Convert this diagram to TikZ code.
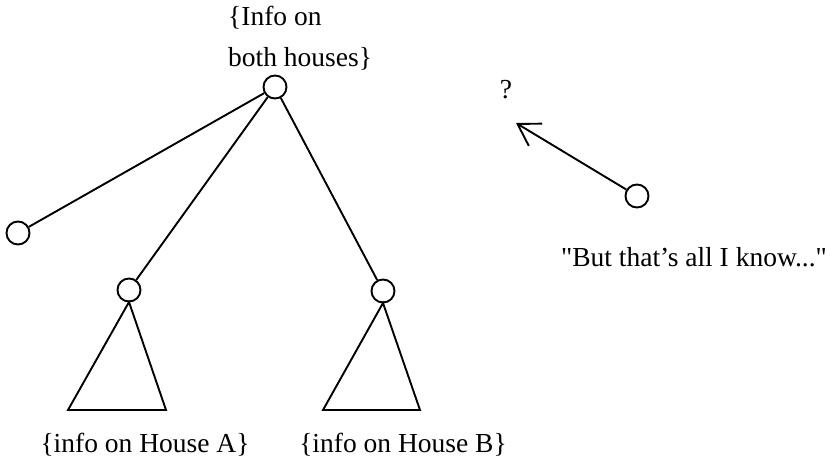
\documentclass[tikz,border=0pt]{standalone}
\usepackage{fontspec}
\setmainfont{Liberation Serif}
\newfontfamily\plainquotes{Liberation Serif}[Ligatures=TeXOff]
\usetikzlibrary{arrows.meta}
\begin{document}
\begin{tikzpicture}[x=1pt,y=-1pt,
  every node/.style={font=\fontsize{27.5}{41}\selectfont},
  vtx/.style={draw,circle,line width=1.9pt,minimum size=23pt,inner sep=0pt},
  edge/.style={line width=1.9pt},
  lbl/.style={inner sep=0pt,anchor=center}]
\useasboundingbox (0,0) rectangle (835,467);
\node[vtx] (root) at (275,87) {};
\node[vtx] (left) at (18,233) {};
\node[vtx] (a) at (129,290) {};
\node[vtx] (b) at (383,291) {};
\node[vtx] (me) at (637,196) {};
\coordinate (tip) at (516,123);
\coordinate (at) at (129,302);
\coordinate (bt) at (383,303);
\coordinate (al) at (68,410);
\coordinate (ar) at (166,410);
\coordinate (bl) at (323,410);
\coordinate (br) at (420,410);
\draw[edge] (root) -- (left);
\draw[edge] (root) -- (a);
\draw[edge] (root) -- (b);
\draw[edge,line join=miter] (at) -- (al) -- (ar) -- cycle;
\draw[edge,line join=miter] (bt) -- (bl) -- (br) -- cycle;
\draw[edge,-{Straight Barb[length=21pt,width=26pt,line width=1.9pt]}] (me) -- (tip);
\node[lbl,align=left,anchor=north west] (top) at (228,6) {\{Info on\\both houses\}};
\node[lbl] (q) at (506,90) {?};
\node[lbl] (know) at (694,257) {\plainquotes "But that’s all I know..."};
\node[lbl] (ha) at (145,445) {\{info on House A\}};
\node[lbl] (hb) at (403,445) {\{info on House B\}};
\end{tikzpicture}
\end{document}
